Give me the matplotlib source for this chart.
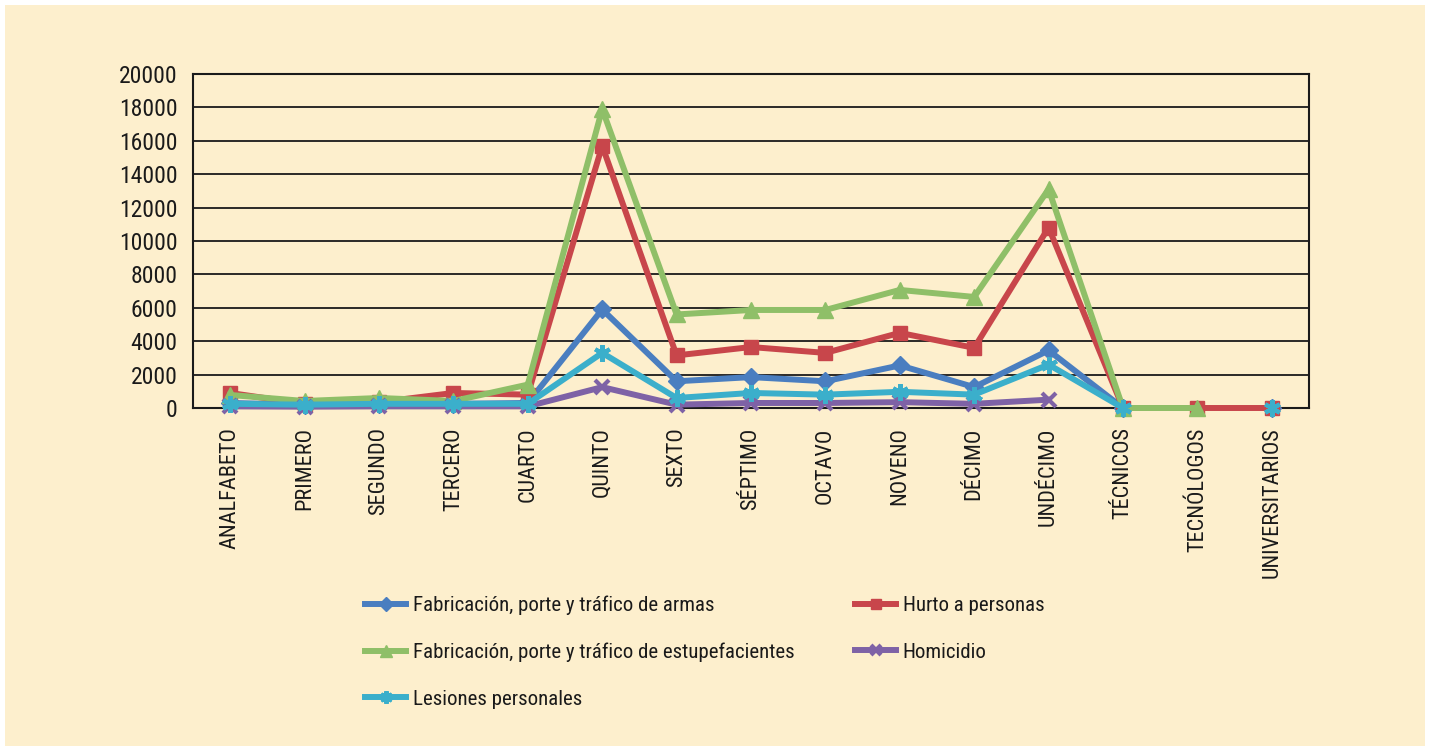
import numpy as np
import matplotlib
matplotlib.use("Agg")
import matplotlib.pyplot as plt
from matplotlib.patches import Rectangle

categories = ["ANALFABETO", "PRIMERO", "SEGUNDO", "TERCERO", "CUARTO", "QUINTO",
              "SEXTO", "SÉPTIMO", "OCTAVO", "NOVENO", "DÉCIMO", "UNDÉCIMO",
              "TÉCNICOS", "TECNÓLOGOS", "UNIVERSITARIOS"]
nan = np.nan
armas = [300, 200, 250, 250, 300, 5900, 1600, 1850, 1600, 2550, 1250, 3450, 0, nan, 0]
hurto = [900, 250, 350, 900, 800, 15700, 3150, 3650, 3300, 4500, 3600, 10800, 0, 0, 0]
estupefacientes = [780, 420, 600, 420, 1400, 17900, 5600, 5870, 5870, 7070, 6650, 13100, 0, 0, nan]
homicidio = [100, 80, 100, 100, 100, 1250, 200, 300, 300, 350, 250, 500, nan, nan, nan]
lesiones = [250, 200, 250, 250, 250, 3300, 600, 900, 800, 970, 800, 2600, 0, nan, 0]

series_labels = ["Fabricación, porte y tráfico de armas", "Hurto a personas",
                 "Fabricación, porte y tráfico de estupefacientes", "Homicidio",
                 "Lesiones personales"]
yticks = list(range(0, 20001, 2000))

bg = "#FDEFCD"
colors = ["#4A7EC0", "#C8464B", "#8FBF68", "#7E62A6", "#3BAFCB"]
markers = ["D", "s", "^", "x", (6, 2, 0)]
msizes = [9, 10, 11, 10, 12]

plt.rcParams['font.family'] = ['Liberation Sans Narrow', 'Roboto Condensed',
                               'Open Sans Condensed', 'Liberation Sans', 'DejaVu Sans']

fig = plt.figure(figsize=(14.32, 7.46), dpi=100)
fig.patch.set_facecolor("white")
fig.patches.append(Rectangle((5 / 1432, 0), 1420 / 1432, 741 / 746,
                             transform=fig.transFigure, facecolor=bg,
                             edgecolor="none", zorder=-10))

ax = fig.add_axes([193 / 1432, 1 - 408 / 746, (1309 - 193) / 1432, (408 - 74) / 746])
ax.set_facecolor(bg)

x = np.arange(len(categories))
data = [armas, hurto, estupefacientes, homicidio, lesiones]
handles = []
for vals, c, m, ms, lab in zip(data, colors, markers, msizes, series_labels):
    h, = ax.plot(x, vals, color=c, lw=4.3, marker=m, ms=ms,
                 mew=3 if m in ("x", (6, 2, 0)) else 1,
                 mec=c, mfc=c, label=lab, clip_on=False, zorder=3)
    handles.append(h)

ax.set_xlim(-0.5, len(categories) - 0.5)
ax.set_ylim(0, 20000)
ax.set_yticks(yticks)
ax.set_yticklabels([str(v) for v in yticks], fontsize=17, color="#1a1a1a")
ax.yaxis.grid(True, color="#1a1a1a", lw=1.3)
ax.set_axisbelow(True)
ax.set_xticks(x)
ax.set_xticklabels(categories, rotation=90, fontsize=16, color="#1a1a1a")
ax.tick_params(axis="x", length=0, pad=14)
ax.tick_params(axis="y", length=0, pad=11)
for s in ax.spines.values():
    s.set_color("#1a1a1a")
    s.set_linewidth(1.5)

order = [0, 2, 4, 1, 3]
leg = fig.legend(handles=[handles[i] for i in order], loc="upper left",
                 bbox_to_anchor=(346 / 1432, 1 - 577 / 746),
                 ncol=2, frameon=False, fontsize=15, handlelength=2.0,
                 columnspacing=2.9, labelspacing=1.32, handletextpad=0.3,
                 markerscale=0.75)
for t in leg.get_texts():
    t.set_color("#1a1a1a")

fig.savefig("out.png", dpi=100, facecolor=fig.get_facecolor())
